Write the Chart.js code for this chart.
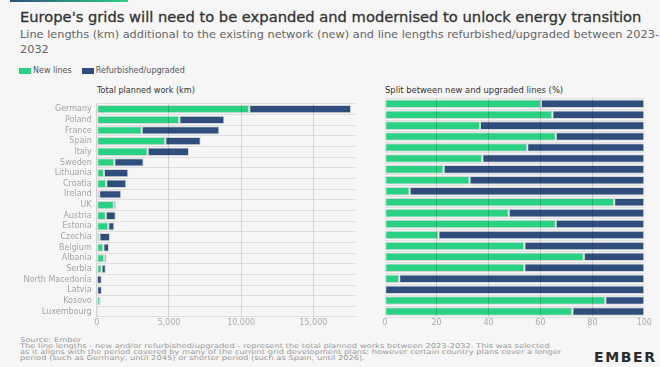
<!DOCTYPE html>
<html>
<head>
<meta charset="utf-8">
<script src="https://cdn.jsdelivr.net/npm/chart.js@4.4.1/dist/chart.umd.min.js"></script>
<style>
  body { margin:0; background:#f6f6f6; font-family:"DejaVu Sans", sans-serif; }
  #wrap { position:relative; width:660px; height:367px; overflow:hidden; }
  .topbar { position:absolute; left:10px; top:0; width:118px; height:2px; background:linear-gradient(90deg,#2f4e7e,#2bd182); }
  .fit { transform-origin:0 0; white-space:nowrap; }
  .title { position:absolute; left:20px; top:8px; font-size:14.6px; color:#333; -webkit-text-stroke:0.3px #333; }
  .sub { position:absolute; left:20px; top:28px; font-size:11.1px; line-height:14.5px; color:#666; }
  .legend { position:absolute; left:19px; top:66px; font-size:8px; color:#555; white-space:nowrap; }
  .legend span.sw { display:inline-block; width:12px; height:6px; vertical-align:middle; margin-right:2px; }
  .ctitle { position:absolute; top:85px; font-size:8.1px; color:#333; }
  .foot { position:absolute; left:20px; top:336.5px; font-size:6.6px; line-height:6px; color:#999; }
  .logo { position:absolute; left:594px; top:349px; font-size:14px; font-weight:bold; color:#2b2b2b; letter-spacing:1.6px; }
  canvas { position:absolute; }
</style>
</head>
<body>
<div id="wrap">
  <div class="topbar"></div>
  <div class="title fit" data-w="621">Europe's grids will need to be expanded and modernised to unlock energy transition</div>
  <div class="sub fit" data-w="639">Line lengths (km) additional to the existing network (new) and line lengths refurbished/upgraded between 2023-<br>2032</div>
  <div class="legend"><span class="sw" style="background:#2bd182"></span>New lines&nbsp;&nbsp;&nbsp;&nbsp;<span class="sw" style="background:#2f4e7e"></span>Refurbished/upgraded</div>
  <div class="ctitle fit" data-w="98" style="left:97px">Total planned work (km)</div>
  <div class="ctitle fit" data-w="178" style="left:385px">Split between new and upgraded lines (%)</div>
  <div style="position:absolute;left:0;top:94px;width:365px;height:235px"><canvas id="chartKm" width="365" height="235"></canvas></div>
  <div style="position:absolute;left:370px;top:94px;width:290px;height:235px"><canvas id="chartPct" width="290" height="235"></canvas></div>
  <div class="foot fit" data-w="541">Source: Ember<br>The line lengths - new and/or refurbished/upgraded - represent the total planned works between 2023-2032. This was selected<br>as it aligns with the period covered by many of the current grid development plans; however certain country plans cover a longer<br>period (such as Germany, until 2045) or shorter period (such as Spain, until 2026).</div>
  <div class="logo">EMBER</div>
</div>
<script>
// countries, top to bottom
var countries = ["Germany","Poland","France","Spain","Italy","Sweden","Lithuania","Croatia","Ireland","UK",
  "Austria","Estonia","Czechia","Belgium","Albania","Serbia","North Macedonia","Latvia","Kosovo","Luxembourg"];

// km
var newKm      = [10560,5720,3120,4750,3530,1220,500,660,170,1190,630,800,190,460,510,340,20,0,240,80];
var upgradedKm = [7050,3120,5370,2450,2860,2030,1690,1390,1530,150,690,420,730,390,160,290,330,360,40,30];

// share of new lines (%)
var newPct = [60.2,64.6,36.7,65.9,54.9,37.6,22.7,32.7,9.6,88.4,47.8,65.9,20.7,53.8,76.7,53.8,5.6,0,85,72.3];
var upgradedPct = newPct.map(function (v) { return 100 - v; });

var kmTicks = [0, 5000, 10000, 15000];
var pctTicks = [0, 20, 40, 60, 80, 100];

// stretch text blocks horizontally to the widths seen in the reference
document.querySelectorAll(".fit").forEach(function (el) {
  var w = el.offsetWidth;
  el.style.transform = "scaleX(" + (+el.dataset.w / w) + ")";
});

var GREEN = "#2bd182", NAVY = "#2f4e7e";
Chart.defaults.font.family = "'DejaVu Sans', sans-serif";
Chart.defaults.animation = false;

function barSet(label, data, color) {
  return {
    label: label, data: data, backgroundColor: color,
    borderColor: "#d6d6d6", borderWidth: 1, borderSkipped: false,
    barPercentage: 0.78, categoryPercentage: 1
  };
}

function makeChart(id, d1, d2, max, ticks, yWidth, showLabels, padRight) {
  new Chart(document.getElementById(id), {
    type: "bar",
    data: {
      labels: countries,
      datasets: [barSet("New lines", d1, GREEN), barSet("Refurbished/upgraded", d2, NAVY)]
    },
    options: {
      indexAxis: "y",
      responsive: false,
      layout: { padding: { top: 4.3, right: padRight, bottom: 0, left: 0 } },
      plugins: { legend: { display: false }, tooltip: { enabled: false } },
      scales: {
        x: {
          stacked: true, min: 0, max: max,
          afterBuildTicks: function (s) {
            s.ticks = ticks.map(function (v) { return { value: v }; });
          },
          afterFit: function (s) { s.height = 12; },
          border: { display: false },
          grid: {
            z: 1, drawTicks: false,
            color: function (c) {
              if (c.tick && (c.tick.value === 0 || c.tick.value === max) && max === 100) return "transparent";
              return "rgba(0,0,0,0.14)";
            }
          },
          ticks: { color: "#aaa", font: { size: 8 }, padding: 1 }
        },
        y: {
          stacked: true,
          afterFit: function (s) { s.width = yWidth; },
          border: { display: false },
          grid: { color: "#e0e0e0", drawTicks: false },
          ticks: { display: showLabels, color: "#a5a5a5", font: { size: 8 }, padding: 5, autoSkip: false }
        }
      }
    }
  });
}

makeChart("chartKm", newKm, upgradedKm, 18000, kmTicks, 96.7, true, 8.3);
makeChart("chartPct", newPct, upgradedPct, 100, pctTicks, 14.7, false, 15.7);
</script>
</body>
</html>
